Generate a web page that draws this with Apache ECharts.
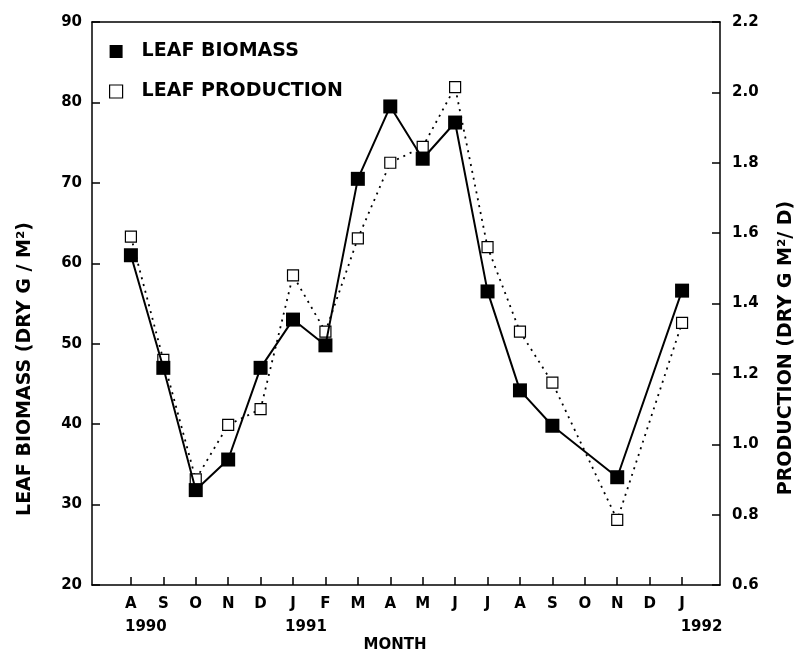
<!DOCTYPE html>
<html>
<head>
<meta charset="utf-8">
<script src="https://cdn.jsdelivr.net/npm/echarts@6/dist/echarts.min.js"></script>
<style>
  html, body { margin: 0; background: #fff; }
  #chart { width: 795px; height: 658px; }
</style>
</head>
<body>
<div id="chart"></div>
<script>
// months Aug 1990 .. Jan 1992
const months = ['A', 'S', 'O', 'N', 'D', 'J', 'F', 'M', 'A', 'M', 'J', 'J', 'A', 'S', 'O', 'N', 'D', 'J'];
// leaf biomass, dry g / m2 (left axis)
const biomass = [61.0, 47.0, 31.8, 35.6, 47.0, 53.0, 49.8, 70.5, 79.5, 73.0, 77.5, 56.5, 44.2, 39.8, null, 33.4, null, 56.6];
// leaf production, dry g m2 / d (right axis)
const production = [1.59, 1.24, 0.90, 1.055, 1.10, 1.48, 1.32, 1.585, 1.80, 1.845, 2.015, 1.56, 1.32, 1.175, null, 0.785, null, 1.345];
const years = ['1990', '1991', '1992'];
const yearAt = [0.46, 5.4, 17.6];

const font = 'DejaVu Sans';
const toPairs = arr => arr.map((v, i) => [i, v]);
const monthIdx = months.map((m, i) => i);

let myChart = echarts.init(document.getElementById('chart'));
let option = {
  animation: false,
  backgroundColor: '#fff',
  grid: { left: 92, right: 75, top: 22, bottom: 73 },
  legend: {
    orient: 'vertical',
    left: 109,
    top: 42,
    itemWidth: 13,
    itemHeight: 13,
    itemGap: 21,
    padding: 0,
    textStyle: { fontFamily: font, fontSize: 19, fontWeight: 'bold', color: '#000', padding: [0, 0, 0, 14] },
    data: [
      { name: 'LEAF BIOMASS', icon: 'rect', itemStyle: { color: '#000' } },
      { name: 'LEAF PRODUCTION', icon: 'rect', itemStyle: { color: '#fff', borderColor: '#000', borderWidth: 1.2 } }
    ]
  },
  xAxis: [
    {
      type: 'value',
      min: -1.2,
      max: 18.17,
      splitLine: { show: false },
      axisLine: { onZero: false, lineStyle: { color: '#000', width: 1.5 } },
      axisTick: { inside: true, length: 8, customValues: monthIdx, lineStyle: { color: '#000', width: 1.5 } },
      axisLabel: {
        customValues: monthIdx,
        formatter: v => months[Math.round(v)],
        margin: 12,
        color: '#000',
        fontFamily: font,
        fontSize: 15,
        fontWeight: 'bold'
      }
    },
    {
      type: 'value',
      position: 'top',
      min: -1.2,
      max: 18.17,
      splitLine: { show: false },
      axisLine: { onZero: false, lineStyle: { color: '#000', width: 1.5 } },
      axisTick: { show: false },
      axisLabel: { show: false }
    }
  ],
  yAxis: [
    {
      type: 'value',
      position: 'left',
      min: 20,
      max: 90,
      interval: 10,
      splitLine: { show: false },
      axisLine: { show: true, onZero: false, lineStyle: { color: '#000', width: 1.5 } },
      axisTick: { show: true, inside: true, length: 8, lineStyle: { color: '#000', width: 1.5 } },
      axisLabel: { margin: 10, color: '#000', fontFamily: font, fontSize: 15, fontWeight: 'bold' }
    },
    {
      type: 'value',
      position: 'right',
      min: 0.6,
      max: 2.2,
      interval: 0.2,
      splitLine: { show: false },
      axisLine: { show: true, onZero: false, lineStyle: { color: '#000', width: 1.5 } },
      axisTick: { show: true, inside: true, length: 8, lineStyle: { color: '#000', width: 1.5 } },
      axisLabel: {
        margin: 12,
        color: '#000',
        fontFamily: font,
        fontSize: 15,
        fontWeight: 'bold',
        formatter: v => v.toFixed(1)
      }
    }
  ],
  series: [
    {
      name: 'LEAF PRODUCTION',
      type: 'line',
      yAxisIndex: 1,
      data: toPairs(production),
      connectNulls: true,
      symbol: 'rect',
      symbolSize: 11,
      z: 2,
      lineStyle: { color: '#000', width: 1.8, type: [2, 5] },
      itemStyle: { color: '#fff', borderColor: '#000', borderWidth: 1.2 }
    },
    {
      name: 'LEAF BIOMASS',
      type: 'line',
      yAxisIndex: 0,
      data: toPairs(biomass),
      connectNulls: true,
      symbol: 'rect',
      symbolSize: 14,
      z: 3,
      lineStyle: { color: '#000', width: 2 },
      itemStyle: { color: '#000' }
    }
  ]
};
myChart.setOption(option);

// axis titles and year labels
let texts = [
  { type: 'text', x: 25, y: 369, rotation: Math.PI / 2,
    style: { text: 'LEAF BIOMASS (DRY G / M²)', font: 'bold 19px "DejaVu Sans"', fill: '#000', textAlign: 'center', textVerticalAlign: 'middle' } },
  { type: 'text', x: 786, y: 348, rotation: Math.PI / 2,
    style: { text: 'PRODUCTION (DRY G M²/ D)', font: 'bold 19px "DejaVu Sans"', fill: '#000', textAlign: 'center', textVerticalAlign: 'middle' } },
  { type: 'text', x: 395, y: 645,
    style: { text: 'MONTH', font: 'bold 15px "DejaVu Sans"', fill: '#000', textAlign: 'center', textVerticalAlign: 'middle' } }
];
years.forEach((y, i) => {
  texts.push({
    type: 'text',
    x: myChart.convertToPixel({ xAxisIndex: 0 }, yearAt[i]),
    y: 627,
    style: { text: y, font: 'bold 15px "DejaVu Sans"', fill: '#000', textAlign: 'center', textVerticalAlign: 'middle' }
  });
});
myChart.setOption({ graphic: texts });
</script>
</body>
</html>
